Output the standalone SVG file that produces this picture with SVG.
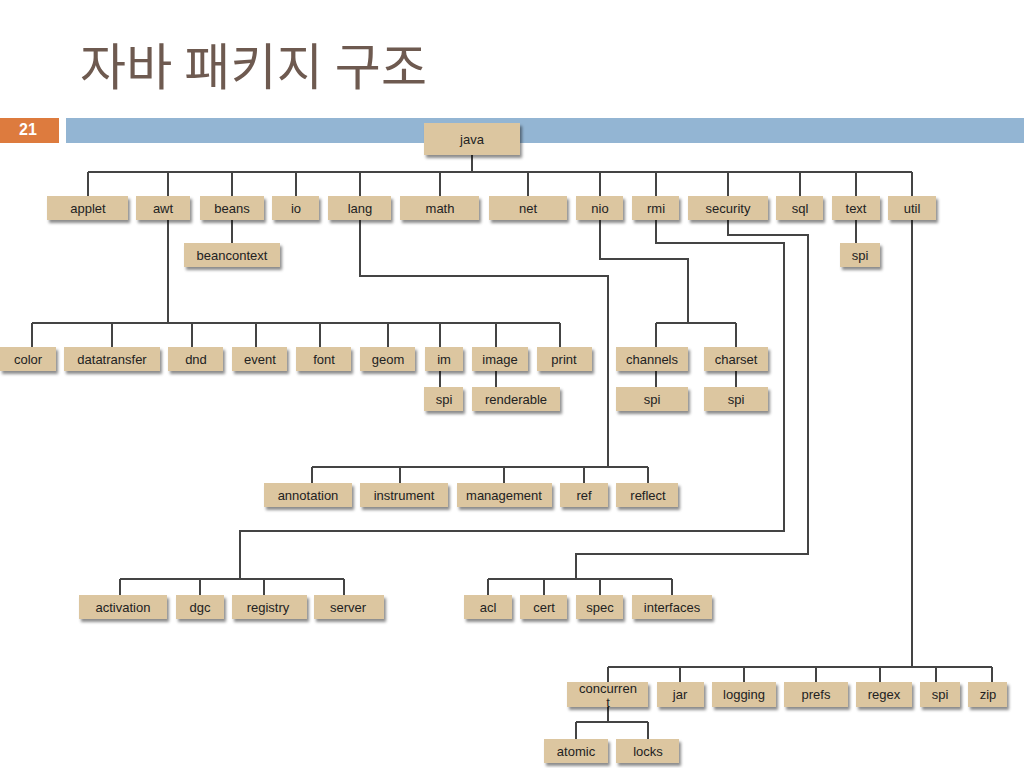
<svg xmlns="http://www.w3.org/2000/svg" width="1024" height="768" viewBox="0 0 1024 768">
<defs>
<filter id="sh" x="-20%" y="-30%" width="140%" height="170%">
<feDropShadow dx="2" dy="3" stdDeviation="1.5" flood-color="#000" flood-opacity="0.45"/>
</filter>
<style>
.n rect{fill:#DCC6A0;filter:url(#sh);}
.n text{font-family:"Liberation Sans",Arial,sans-serif;font-size:13px;fill:#222;text-anchor:middle;}
.c path{fill:none;stroke:#444;stroke-width:2;}
</style>
</defs>
<rect width="1024" height="768" fill="#fff"/>
<text x="80" y="85" font-family="'Noto Sans CJK KR',sans-serif" font-size="50" fill="#6E5A50" textLength="347">자바 패키지 구조</text>
<rect x="0" y="118" width="59" height="25" fill="#DD7B3E"/>
<text x="28" y="135" font-family="'Liberation Sans',Arial,sans-serif" font-size="16" font-weight="bold" fill="#fff" text-anchor="middle">21</text>
<rect x="66" y="118" width="958" height="25" fill="#93B5D3"/>
<g class="c" id="connectors">
<path d="M472 155V172M88 172H912M88 172V196M168 172V196M232 172V196M296 172V196M360 172V196M440 172V196M528 172V196M600 172V196M656 172V196M728 172V196M800 172V196M856 172V196M912 172V196"/>
<path d="M232 220V243M856 220V243"/>
<path d="M168 220V323M32 323H560M32 323V347M112 323V347M192 323V347M256 323V347M320 323V347M388 323V347M440 323V347M496 323V347M560 323V347"/>
<path d="M440 371V387M496 371V387"/>
<path d="M600 220V259H688V323M656 323H736M656 323V347M736 323V347M656 371V387M736 371V387"/>
<path d="M360 220V276H608V467M312 467H648M312 467V483M400 467V483M504 467V483M584 467V483M648 467V483"/>
<path d="M656 220V243H784V531H240V579M120 579H344M120 579V595M200 579V595M264 579V595M344 579V595"/>
<path d="M728 220V235H808V554H576V579M488 579H672M488 579V595M544 579V595M600 579V595M672 579V595"/>
<path d="M912 220V667M608 667H992M608 667V682M680 667V682M744 667V682M816 667V682M880 667V682M936 667V682M992 667V682"/>
<path d="M608 707V722M576 722H648M576 722V739M648 722V739"/>
</g>
<g class="n" id="java"><rect x="424" y="123" width="96" height="32"/><text x="472" y="144">java</text></g>
<g class="n" id="applet"><rect x="47" y="196" width="81" height="24"/><text x="88" y="212.5">applet</text></g>
<g class="n" id="awt"><rect x="136" y="196" width="54" height="24"/><text x="163" y="212.5">awt</text></g>
<g class="n" id="beans"><rect x="200" y="196" width="64" height="24"/><text x="232" y="212.5">beans</text></g>
<g class="n" id="io"><rect x="272" y="196" width="47" height="24"/><text x="296" y="212.5">io</text></g>
<g class="n" id="lang"><rect x="328" y="196" width="63" height="24"/><text x="360" y="212.5">lang</text></g>
<g class="n" id="math"><rect x="400" y="196" width="79" height="24"/><text x="440" y="212.5">math</text></g>
<g class="n" id="net"><rect x="489" y="196" width="78" height="24"/><text x="528" y="212.5">net</text></g>
<g class="n" id="nio"><rect x="576" y="196" width="47" height="24"/><text x="600" y="212.5">nio</text></g>
<g class="n" id="rmi"><rect x="632" y="196" width="47" height="24"/><text x="656" y="212.5">rmi</text></g>
<g class="n" id="security"><rect x="688" y="196" width="80" height="24"/><text x="728" y="212.5">security</text></g>
<g class="n" id="sql"><rect x="776" y="196" width="47" height="24"/><text x="800" y="212.5">sql</text></g>
<g class="n" id="text"><rect x="832" y="196" width="48" height="24"/><text x="856" y="212.5">text</text></g>
<g class="n" id="util"><rect x="888" y="196" width="48" height="24"/><text x="912" y="212.5">util</text></g>
<g class="n" id="beancontext"><rect x="184" y="243" width="96" height="24"/><text x="232" y="259.5">beancontext</text></g>
<g class="n" id="text-spi"><rect x="840" y="243" width="40" height="24"/><text x="860" y="259.5">spi</text></g>
<g class="n" id="color"><rect x="0" y="347" width="56" height="24"/><text x="28" y="363.5">color</text></g>
<g class="n" id="datatransfer"><rect x="64" y="347" width="96" height="24"/><text x="112" y="363.5">datatransfer</text></g>
<g class="n" id="dnd"><rect x="168" y="347" width="55" height="24"/><text x="196" y="363.5">dnd</text></g>
<g class="n" id="event"><rect x="232" y="347" width="55" height="24"/><text x="260" y="363.5">event</text></g>
<g class="n" id="font"><rect x="296" y="347" width="55" height="24"/><text x="324" y="363.5">font</text></g>
<g class="n" id="geom"><rect x="360" y="347" width="55" height="24"/><text x="388" y="363.5">geom</text></g>
<g class="n" id="im"><rect x="425" y="347" width="38" height="24"/><text x="444" y="363.5">im</text></g>
<g class="n" id="image"><rect x="472" y="347" width="56" height="24"/><text x="500" y="363.5">image</text></g>
<g class="n" id="print"><rect x="537" y="347" width="55" height="24"/><text x="564" y="363.5">print</text></g>
<g class="n" id="channels"><rect x="616" y="347" width="72" height="24"/><text x="652" y="363.5">channels</text></g>
<g class="n" id="charset"><rect x="704" y="347" width="64" height="24"/><text x="736" y="363.5">charset</text></g>
<g class="n" id="im-spi"><rect x="424" y="387" width="39" height="24"/><text x="444" y="403.5">spi</text></g>
<g class="n" id="renderable"><rect x="472" y="387" width="88" height="24"/><text x="516" y="403.5">renderable</text></g>
<g class="n" id="channels-spi"><rect x="616" y="387" width="72" height="24"/><text x="652" y="403.5">spi</text></g>
<g class="n" id="charset-spi"><rect x="704" y="387" width="64" height="24"/><text x="736" y="403.5">spi</text></g>
<g class="n" id="annotation"><rect x="264" y="483" width="88" height="24"/><text x="308" y="499.5">annotation</text></g>
<g class="n" id="instrument"><rect x="360" y="483" width="88" height="24"/><text x="404" y="499.5">instrument</text></g>
<g class="n" id="management"><rect x="457" y="483" width="95" height="24"/><text x="504" y="499.5">management</text></g>
<g class="n" id="ref"><rect x="560" y="483" width="48" height="24"/><text x="584" y="499.5">ref</text></g>
<g class="n" id="reflect"><rect x="616" y="483" width="62" height="24"/><text x="648" y="499.5">reflect</text></g>
<g class="n" id="activation"><rect x="79" y="595" width="88" height="24"/><text x="123" y="611.5">activation</text></g>
<g class="n" id="dgc"><rect x="176" y="595" width="48" height="24"/><text x="200" y="611.5">dgc</text></g>
<g class="n" id="registry"><rect x="232" y="595" width="75" height="24"/><text x="268" y="611.5">registry</text></g>
<g class="n" id="server"><rect x="314" y="595" width="70" height="24"/><text x="348" y="611.5">server</text></g>
<g class="n" id="acl"><rect x="464" y="595" width="48" height="24"/><text x="488" y="611.5">acl</text></g>
<g class="n" id="cert"><rect x="520" y="595" width="47" height="24"/><text x="544" y="611.5">cert</text></g>
<g class="n" id="spec"><rect x="576" y="595" width="47" height="24"/><text x="600" y="611.5">spec</text></g>
<g class="n" id="interfaces"><rect x="632" y="595" width="80" height="24"/><text x="672" y="611.5">interfaces</text></g>
<g class="n" id="concurrent"><rect x="567" y="682" width="81" height="25"/><text x="608" y="693">concurren</text><text x="608" y="707">t</text></g>
<g class="n" id="jar"><rect x="657" y="682" width="47" height="25"/><text x="680" y="699">jar</text></g>
<g class="n" id="logging"><rect x="712" y="682" width="64" height="25"/><text x="744" y="699">logging</text></g>
<g class="n" id="prefs"><rect x="784" y="682" width="64" height="25"/><text x="816" y="699">prefs</text></g>
<g class="n" id="regex"><rect x="856" y="682" width="56" height="25"/><text x="884" y="699">regex</text></g>
<g class="n" id="util-spi"><rect x="920" y="682" width="40" height="25"/><text x="940" y="699">spi</text></g>
<g class="n" id="zip"><rect x="968" y="682" width="39" height="25"/><text x="988" y="699">zip</text></g>
<g class="n" id="atomic"><rect x="544" y="739" width="64" height="24"/><text x="576" y="755.5">atomic</text></g>
<g class="n" id="locks"><rect x="616" y="739" width="63" height="24"/><text x="648" y="755.5">locks</text></g>
</svg>
